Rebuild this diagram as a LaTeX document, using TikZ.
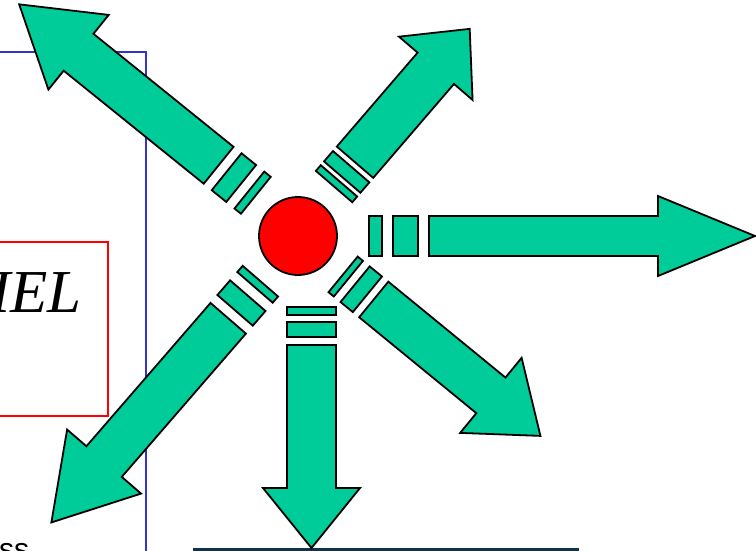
\documentclass[tikz,border=0pt]{standalone}
\usepackage{fontspec}
\setmainfont{Liberation Serif}
\newfontfamily\slidesans{Liberation Sans}
\usepackage{xcolor}
\usetikzlibrary{positioning}
\definecolor{jade}{RGB}{0,204,153}
\definecolor{frameblue}{RGB}{51,51,204}
\definecolor{floorline}{RGB}{20,50,70}
\tikzset{
  burst/.style={fill=jade,draw=black,line width=1.8pt,line join=miter},
}

\begin{document}
\begin{tikzpicture}[x=1pt,y=-1pt]
\useasboundingbox (0,0) rectangle (756,550);
\clip (0,0) rectangle (756,550);
% frames behind the burst
\draw[frameblue,line width=1.5pt] (-10,52) rectangle (146,560);
\draw[red,line width=1.5pt] (-10,242) rectangle (108,416);
\node[font=\fontsize{61}{61}\selectfont\itshape,anchor=base east,inner sep=0] (tag) at (82,312) {IEL};
\node[font=\slidesans\fontsize{30}{30}\selectfont,anchor=north west,inner sep=0] (foot) at (-1,543) {ss};
\draw[floorline,line width=3pt] (193,549) -- (579,549);
% six arrows: origin / angle / half width / two dashes / shaft / head / tip
\foreach \ox/\oy/\ang/\w/\da/\db/\dc/\dd/\s/\h/\hw/\t in {
    298/236/0/20/71/84/95/120/131/360/40/457,
    311.5/236/-90/24.5/71/79/86/101/109/252/48.5/312,
    294.3/232.8/49.3/24/61/68.5/73.5/87.2/93.1/217/48.5/269,
    301.2/231.9/141.1/23.7/58.3/66.6/77.1/95.8/106.1/286.1/48/362.4,
    297.3/236.9/-39.3/23/59.2/66/74.7/90.6/98.8/250.2/48.5/314.2,
    298.8/236.8/-130.9/23.4/58.7/66.9/77.9/97.3/107.8/297.4/48.9/377.9} {
  \begin{scope}[shift={(\ox,\oy)},rotate=\ang]
    \draw[burst] (\da,-\w) rectangle (\db,\w);
    \draw[burst] (\dc,-\w) rectangle (\dd,\w);
    \draw[burst] (\s,-\w) -- (\h,-\w) -- (\h,-\hw) -- (\t,0)
      -- (\h,\hw) -- (\h,\w) -- (\s,\w) -- cycle;
  \end{scope}
}
\node[circle,fill=red,draw=black,line width=1.8pt,minimum size=78pt,inner sep=0] (core) at (298,236) {};
\end{tikzpicture}
\end{document}
